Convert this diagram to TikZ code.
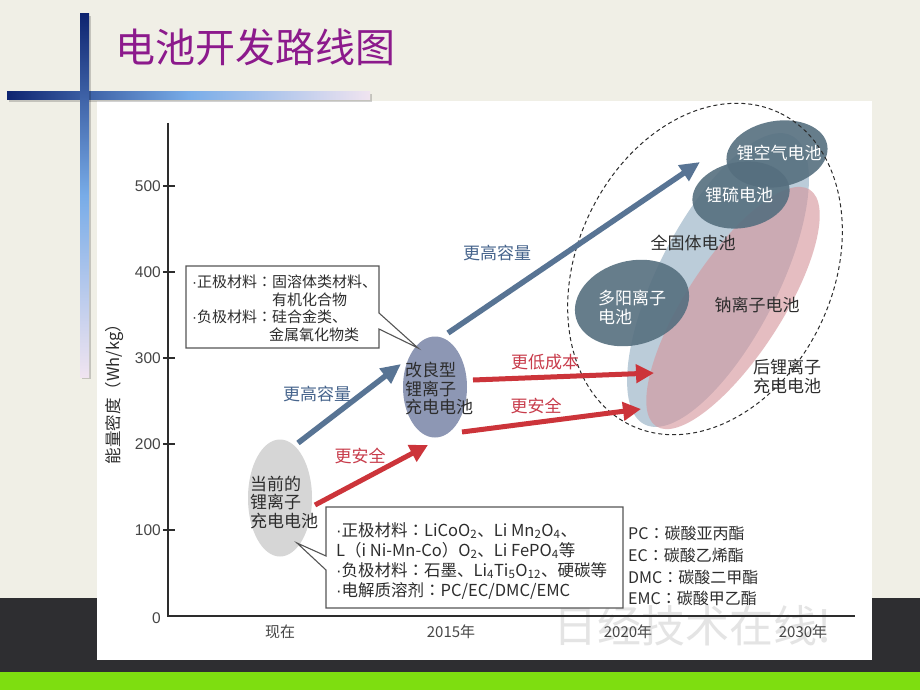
\documentclass[tikz,border=0pt]{standalone}
\usepackage{fontspec}
\setmainfont{Noto Sans CJK SC}
\newfontfamily\numfont{Liberation Sans}
\newfontfamily\jpfont{Noto Sans CJK JP}
\usetikzlibrary{shapes.geometric,arrows.meta}
\definecolor{beige}{RGB}{240,239,230}
\definecolor{darkband}{RGB}{46,46,49}
\definecolor{greenband}{RGB}{126,222,16}
\definecolor{titlepurple}{RGB}{140,26,140}
\definecolor{navy}{RGB}{14,36,112}
\definecolor{barblue}{RGB}{120,172,232}
\definecolor{barpale}{RGB}{240,228,240}
\definecolor{txtdark}{RGB}{45,45,45}
\definecolor{numgray}{RGB}{70,70,70}
\definecolor{wmgray}{RGB}{228,228,228}
\definecolor{arrowblue}{RGB}{88,116,148}
\definecolor{lblblue}{RGB}{70,100,140}
\definecolor{arrowred}{RGB}{204,52,58}
\definecolor{lblred}{RGB}{200,60,75}
\definecolor{curgray}{RGB}{214,214,214}
\definecolor{impblue}{RGB}{141,151,180}
\definecolor{darkell}{RGB}{86,111,127}
\definecolor{lightell}{RGB}{170,192,208}
\definecolor{pinkell}{RGB}{214,150,156}
\definecolor{boxline}{RGB}{85,85,85}
\newcommand{\bdot}{{\numfont·}}
\newcommand{\cco}{{\jpfont ：}}
\begin{document}
\begin{tikzpicture}[x=1pt,y=-1pt,
  txt/.style={inner sep=0pt, text=txtdark},
  big/.style={txt, font=\fontsize{17}{18.5}\selectfont, align=left},
  wtxt/.style={inner sep=0pt, text=white, font=\fontsize{17}{19}\selectfont, align=left},
  numlbl/.style={inner sep=0pt, text=numgray, font=\numfont\fontsize{15.5}{16}\selectfont},
  xlbl/.style={inner sep=0pt, text=numgray, font=\fontsize{15}{16}\selectfont},
  boxtxt/.style={inner sep=0pt, text=txtdark, anchor=base west, font=\fontsize{15}{16}\selectfont},
  boxtxtb/.style={inner sep=0pt, text=txtdark, anchor=base west, font=\fontsize{16.5}{17}\selectfont},
  abbr/.style={inner sep=0pt, text=txtdark, anchor=base west, font=\fontsize{16}{17}\selectfont},
  bluelbl/.style={inner sep=0pt, text=lblblue, font=\fontsize{17}{18}\selectfont},
  redlbl/.style={inner sep=0pt, text=lblred, font=\fontsize{17}{18}\selectfont},
  barrow/.style={draw=arrowblue, line width=5.5pt, -{Triangle[width=18pt,length=20pt]}},
  rarrow/.style={draw=arrowred, line width=5pt, -{Triangle[width=18pt,length=18pt]}},
  callout/.style={draw=boxline, fill=white, line width=1.1pt, line join=miter},
  darkellipse/.style={ellipse, fill=darkell, fill opacity=0.9, inner sep=0pt},
]
\useasboundingbox (0,0) rectangle (920,690);
% background
\fill[beige] (0,0) rectangle (920,598);
\fill[darkband] (0,598) rectangle (920,672);
\fill[greenband] (0,672) rectangle (920,690);
\fill[white] (97,101) rectangle (872,660);
% decorative bars
\fill[black, opacity=0.18] (9,94) rectangle (372,102);
\shade[left color=navy, right color=barpale, middle color=barblue] (7,92) rectangle (370,100);
\fill[black, opacity=0.18] (82,16) rectangle (91,379);
\shade[top color=navy, bottom color=barpale, middle color=barblue] (80,14) rectangle (89,377);
% title
\node[anchor=west, inner sep=0pt, text=titlepurple, font=\fontsize{40}{42}\selectfont] (title) at (115,47) {电池开发路线图};
% watermark
\node[inner sep=0pt, text=wmgray, font=\fontsize{44}{46}\selectfont] (wm) at (693,626) {日经技术在线!};
% axes
\coordinate (ytop) at (168,123);
\coordinate (orig) at (168,616);
\coordinate (xend) at (855,616);
\draw[txtdark, line width=1.4pt] (ytop) -- (orig) -- (xend);
\foreach \v/\yy in {100/530,200/444,300/358,400/272,500/186}{
  \draw[txtdark, line width=1.2pt] (163,\yy) -- (175,\yy);
  \node[numlbl, anchor=east] (y\v) at (161,\yy) {\v};
}
\node[numlbl, anchor=east] (y0) at (161,618) {0};
\node[inner sep=0pt, text=txtdark, rotate=90, font=\fontsize{16.5}{17}\selectfont] (ytitle) at (114,390) {能量密度（Wh/kg）};
\node[xlbl] (xnow) at (280,632) {现在};
\node[xlbl] (x2015) at (451,632) {2015年};
\node[xlbl] (x2020) at (628,632) {2020年};
\node[xlbl] (x2030) at (803,632) {2030年};
% big future ellipses
\fill[lightell, opacity=0.8, rotate around={63:(718,280)}] (718,280) ellipse [x radius=162pt, y radius=60pt];
\fill[pinkell, opacity=0.62, rotate around={57:(733,308)}] (733,308) ellipse [x radius=141pt, y radius=48pt];
\node[darkellipse, rotate=15, minimum width=116pt, minimum height=84pt] (multi) at (632,303) {};
\node[darkellipse, rotate=10, minimum width=102pt, minimum height=66pt] (liair) at (777,154) {};
\node[darkellipse, rotate=10, minimum width=98pt, minimum height=66pt] (lis) at (741,195) {};
\draw[txtdark, line width=1pt, dash pattern=on 4pt off 3pt, rotate around={64.7:(705,269)}] (705,269) ellipse [x radius=173pt, y radius=128pt];
% current / improved ellipses
\node[ellipse, fill=curgray, inner sep=0pt, minimum width=64pt, minimum height=117pt] (cur) at (280,498) {};
\node[ellipse, fill=impblue, inner sep=0pt, minimum width=64pt, minimum height=101pt] (imp) at (435,387) {};
% arrows
\coordinate (b1s) at (298,443); \coordinate (b1e) at (401,364);
\coordinate (b2s) at (448,333); \coordinate (b2e) at (700,162);
\coordinate (r1s) at (315,505); \coordinate (r1e) at (428,445);
\coordinate (r2s) at (473,380); \coordinate (r2e) at (654,373);
\coordinate (r3s) at (462,432); \coordinate (r3e) at (641,409);
\draw[barrow] (b1s) -- (b1e);
\draw[barrow] (b2s) -- (b2e);
\draw[rarrow] (r1s) -- (r1e);
\draw[rarrow] (r2s) -- (r2e);
\draw[rarrow] (r3s) -- (r3e);
\node[bluelbl] (lblb1) at (317,394) {更高容量};
\node[bluelbl] (lblb2) at (497,253) {更高容量};
\node[redlbl] (lblr1) at (360,456) {更安全};
\node[redlbl] (lblr2) at (545,362) {更低成本};
\node[redlbl] (lblr3) at (536,406) {更安全};
% ellipse texts
\node[big, anchor=west] (curtxt) at (250,502.5) {当前的\\锂离子\\充电电池};
\node[big, anchor=west] (imptxt) at (405,388.5) {改良型\\锂离子\\充电电池};
\node[wtxt, anchor=west] (multitxt) at (598,307) {多阳离子\\电池};
\node[wtxt] (liairtxt) at (779,153) {锂空气电池};
\node[wtxt] (listxt) at (739,195) {锂硫电池};
\node[big] (solid) at (693,243) {全固体电池};
\node[big] (sodium) at (757,305) {钠离子电池};
\node[big, anchor=west] (postli) at (753,376.5) {后锂离子\\充电电池};
% callout 1
\draw[callout] (186,266) -- (379,266) -- (379,313) -- (418,348) -- (379,329) -- (379,348) -- (186,348) -- cycle;
\node[boxtxt] (c1a) at (192,287.5) {\bdot 正极材料\cco 固溶体类材料、};
\node[boxtxt] (c1b) at (192,305) {\phantom{\bdot 正极材料\cco}有机化合物};
\node[boxtxt] (c1c) at (192,322.5) {\bdot 负极材料\cco 硅合金类、};
\node[boxtxt] (c1d) at (189,340) {\phantom{\bdot 负极材料\cco}金属氧化物类};
% callout 2
\draw[callout] (326,507) -- (623,507) -- (623,608) -- (326,608) -- (326,570) -- (297,543) -- (326,556) -- cycle;
\node[boxtxtb] (c2a) at (336,536) {\bdot 正极材料\cco LiCoO\textsubscript{2}、Li Mn\textsubscript{2}O\textsubscript{4}、};
\node[boxtxtb] (c2b) at (336,556) {L（i Ni-Mn-Co）O\textsubscript{2}、Li FePO\textsubscript{4}等};
\node[boxtxtb] (c2c) at (336,576) {\bdot 负极材料\cco 石墨、Li\textsubscript{4}Ti\textsubscript{5}O\textsubscript{12}、硬碳等};
\node[boxtxtb] (c2d) at (336,596) {\bdot 电解质溶剂\cco PC/EC/DMC/EMC};
% abbreviations
\node[abbr] (pc) at (628,539) {PC\cco 碳酸亚丙酯};
\node[abbr] (ec) at (628,561) {EC\cco 碳酸乙烯酯};
\node[abbr] (dmc) at (628,583) {DMC\cco 碳酸二甲酯};
\node[abbr] (emc) at (628,604) {EMC\cco 碳酸甲乙酯};
\end{tikzpicture}
\end{document}
